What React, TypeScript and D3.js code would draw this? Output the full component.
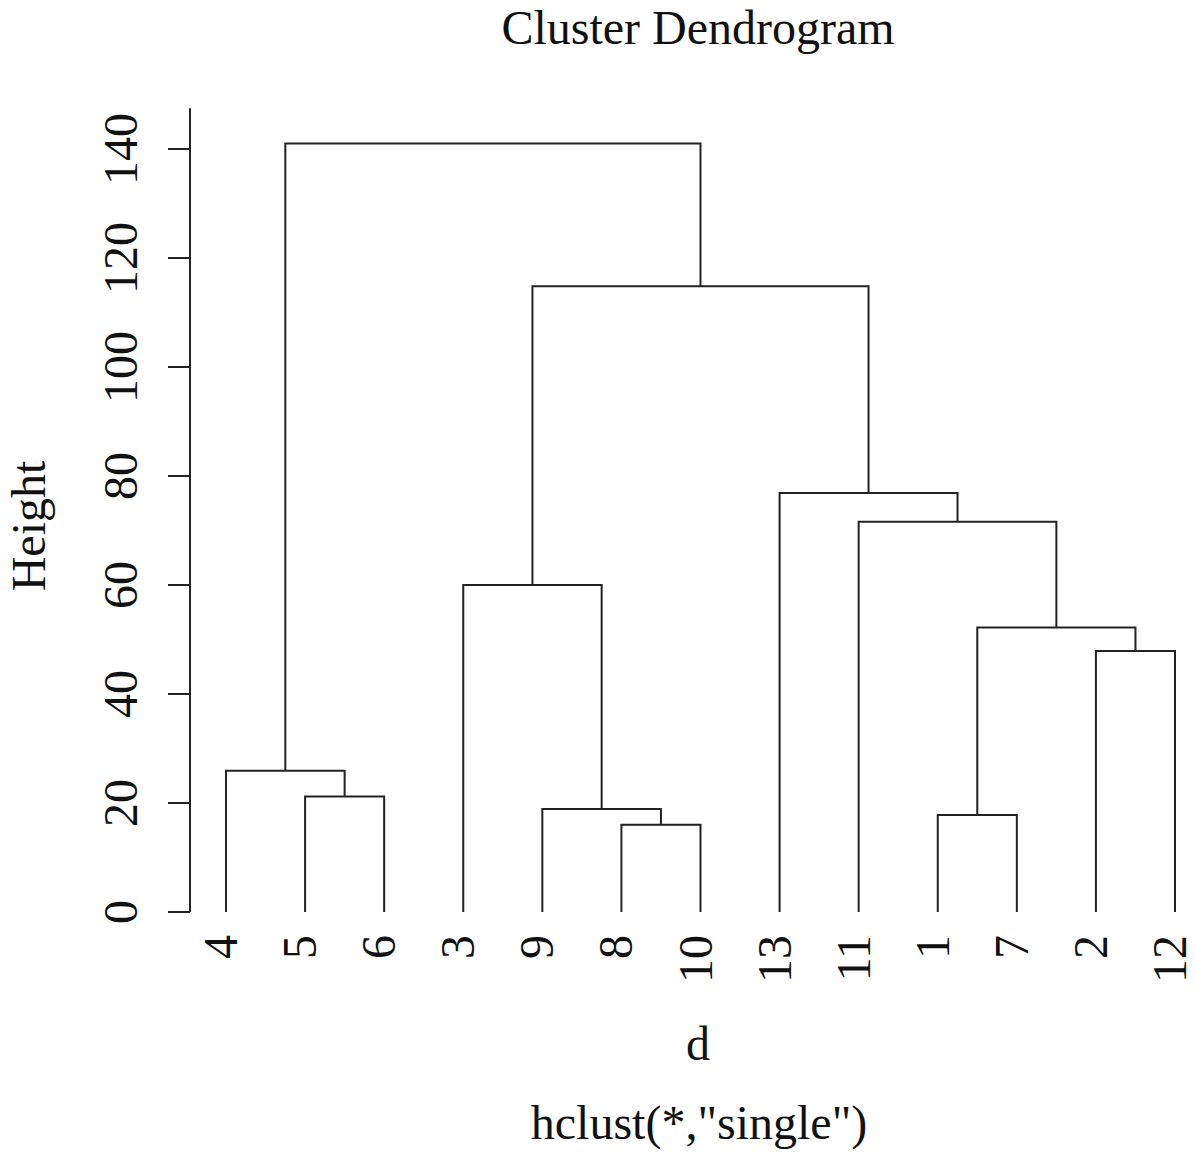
import React from "react";
import * as d3 from "d3";

// Leaf order (left to right) as drawn by plot(hclust)
const leafOrder = ["4", "5", "6", "3", "9", "8", "10", "13", "11", "1", "7", "2", "12"];
// R-style merge matrix: negative = observation label, positive = earlier merge step
const mergeLeft = [-8, -1, -9, -5, -4, -2, 2, -3, -11, -13, 8, 5];
const mergeRight = [-10, -7, 1, -6, 4, -12, 6, 3, 7, 9, 10, 11];
const mergeHeight = [16.0, 17.8, 18.9, 21.2, 25.9, 47.9, 52.2, 60.0, 71.6, 76.9, 114.8, 141.0];
const yTicks = [0, 20, 40, 60, 80, 100, 120, 140];

const titleText = "Cluster Dendrogram";
const yLabel = "Height";
const xLabel = "d";
const subLabel = 'hclust(*,"single")';

const W = 1196;
const H = 1156;
const FONT = "'Liberation Serif', 'Times New Roman', serif";
const FS = 48;
const STROKE = "#222";

export default function App() {
  const x = d3.scalePoint<string>().domain(leafOrder).range([226, 1175]);
  const y = d3.scaleLinear().domain([0, 140]).range([912, 149]);
  const axisTopValue = 147.5;

  const nodeX: number[] = [];
  const nodeH: number[] = [];
  const childPos = (id: number) => {
    if (id < 0) return { cx: x(String(-id)) as number, h: 0 };
    return { cx: nodeX[id - 1], h: nodeH[id - 1] };
  };
  const paths: string[] = [];
  mergeHeight.forEach((h, i) => {
    const a = childPos(mergeLeft[i]);
    const b = childPos(mergeRight[i]);
    nodeX[i] = (a.cx + b.cx) / 2;
    nodeH[i] = h;
    const p = d3.path();
    p.moveTo(a.cx, y(a.h));
    p.lineTo(a.cx, y(h));
    p.lineTo(b.cx, y(h));
    p.lineTo(b.cx, y(b.h));
    paths.push(p.toString());
  });

  const axisX = 190;

  return (
    <svg width={W} height={H} style={{ display: "block", position: "absolute", left: 0, top: 0, background: "#fff" }}>
      <rect x={0} y={0} width={W} height={H} fill="#fff" />
      <text x={698} y={44} textAnchor="middle" fontFamily={FONT} fontSize={FS} fill="#111">
        {titleText}
      </text>
      <line x1={axisX} x2={axisX} y1={y(0)} y2={y(axisTopValue)} stroke={STROKE} strokeWidth={2} />
      {yTicks.map((t) => (
        <g key={t}>
          <line x1={axisX - 22} x2={axisX} y1={y(t)} y2={y(t)} stroke={STROKE} strokeWidth={2} />
          <text
            transform={`translate(137,${y(t)}) rotate(-90)`}
            textAnchor="middle"
            fontFamily={FONT}
            fontSize={FS}
            fill="#111"
          >
            {t}
          </text>
        </g>
      ))}
      <text transform={`translate(45,526) rotate(-90)`} textAnchor="middle" fontFamily={FONT} fontSize={FS} fill="#111">
        {yLabel}
      </text>
      {paths.map((d, i) => (
        <path key={i} d={d} fill="none" stroke={STROKE} strokeWidth={2} />
      ))}
      {leafOrder.map((lab) => (
        <text
          key={lab}
          transform={`translate(${(x(lab) as number) + 11},935) rotate(-90)`}
          textAnchor="end"
          fontFamily={FONT}
          fontSize={FS}
          fill="#111"
        >
          {lab}
        </text>
      ))}
      <text x={698} y={1060} textAnchor="middle" fontFamily={FONT} fontSize={FS} fill="#111">
        {xLabel}
      </text>
      <text x={699} y={1139} textAnchor="middle" fontFamily={FONT} fontSize={FS} fill="#111">
        {subLabel}
      </text>
    </svg>
  );
}
